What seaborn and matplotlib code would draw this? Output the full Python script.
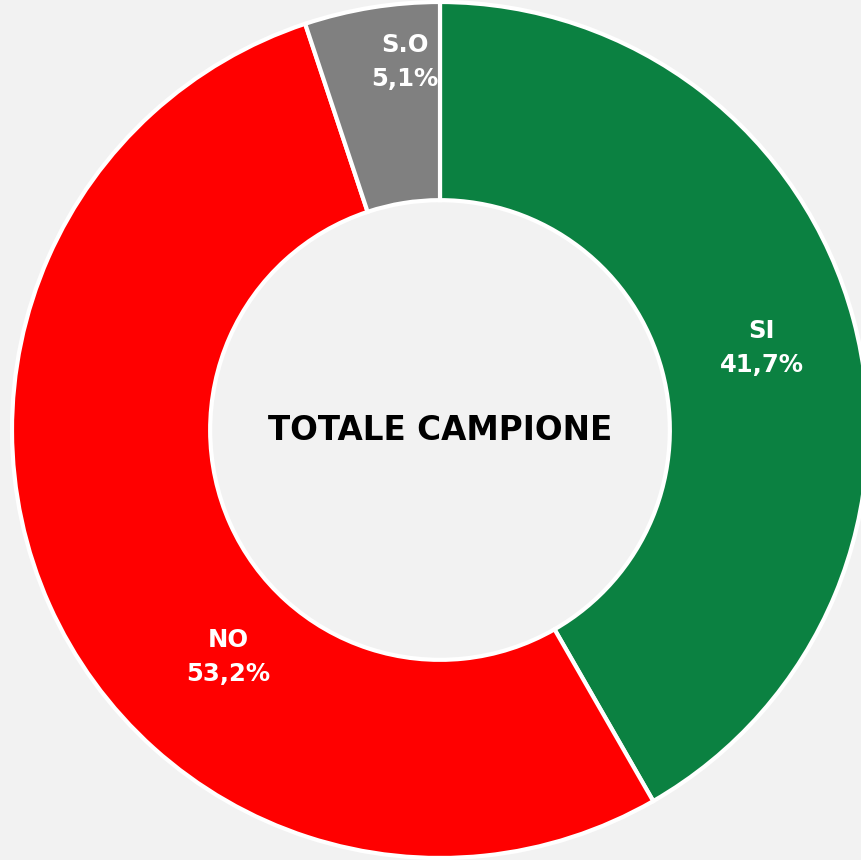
import matplotlib
matplotlib.use("Agg")
import matplotlib.pyplot as plt
import seaborn as sns
import numpy as np

# Dati
categorie = ["SI", "NO", "S.O"]
percentuali = [41.7, 53.2, 5.1]
colori = ["#0B8141", "#FF0000", "#808080"]
titolo_centro = "TOTALE CAMPIONE"

# Posizioni etichette (angolo in gradi, raggio relativo)
pos_etichette = [(14.3, 0.776), (-133.0, 0.726), (95.4, 0.864)]

sns.set_theme(style="white")
plt.rcParams['font.family'] = ['DejaVu Sans']

fig = plt.figure(figsize=(8.61, 8.60), dpi=100)
fig.patch.set_facecolor("#F2F2F2")
ax = fig.add_axes([0, 0, 1, 1])
ax.set_facecolor("#F2F2F2")

ax.pie(percentuali, colors=colori, startangle=90, counterclock=False,
       radius=1.0,
       wedgeprops=dict(width=0.463, edgecolor="white", linewidth=3))

for cat, val, (ang, r) in zip(categorie, percentuali, pos_etichette):
    t = np.deg2rad(ang)
    testo = f"{cat}\n" + f"{val:.1f}%".replace(".", ",")
    ax.text(r * np.cos(t), r * np.sin(t), testo, ha="center", va="center",
            color="white", fontsize=17.5, fontweight="bold", linespacing=1.55)

ax.text(0, 0, titolo_centro, ha="center", va="center", color="black",
        fontsize=23.5, fontweight="bold")

# centro a (440, 430) px, raggio 428 px
ax.set_xlim(-440 / 428, (861 - 440) / 428)
ax.set_ylim(-430 / 428, (860 - 430) / 428)
ax.set_aspect("equal")
ax.axis("off")

fig.savefig("out.png", dpi=100, facecolor=fig.get_facecolor())
